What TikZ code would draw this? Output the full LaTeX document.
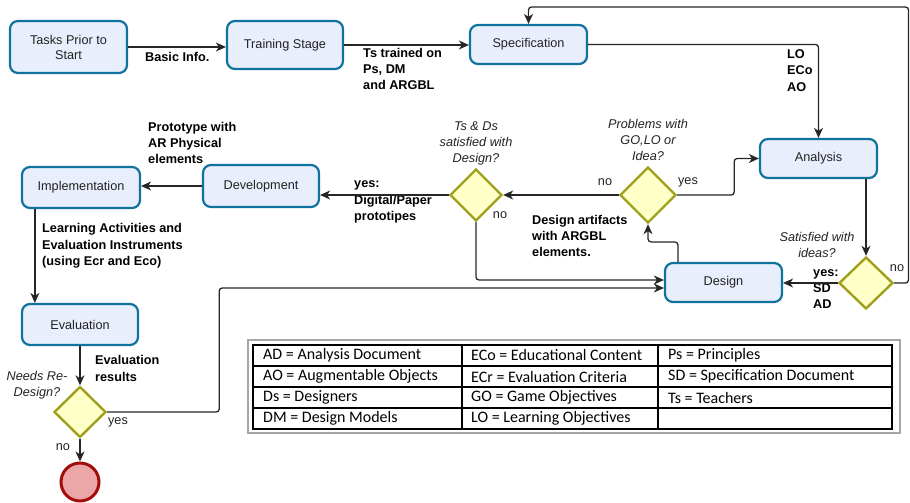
\documentclass[tikz,border=0pt]{standalone}
\usepackage{fontspec}
\setmainfont{Liberation Sans}
\newfontfamily\legfont{Carlito}
\usetikzlibrary{shapes.geometric,arrows.meta}
\definecolor{boxfill}{HTML}{E9EEFC}
\definecolor{boxline}{HTML}{10739E}
\definecolor{dfill}{HTML}{FFFFC8}
\definecolor{dline}{HTML}{A0A01E}
\definecolor{endfill}{HTML}{EBA7A7}
\definecolor{endline}{HTML}{A50D0D}
\definecolor{txt}{HTML}{222222}
\begin{document}
\begin{tikzpicture}[x=1pt,y=-1pt,
  every node/.style={font=\fontsize{12.7}{15}\selectfont, text=txt},
  proc/.style={draw=boxline, fill=boxfill, line width=2.2pt, rounded corners=8pt, minimum width=116pt, inner sep=0pt, align=center},
  dec/.style={diamond, draw=dline, fill=dfill, line width=2.4pt, inner sep=0pt},
  arr/.style={-{Stealth[length=10pt,width=9pt,inset=3pt]}, line width=1.3pt, draw=black!85, rounded corners=3pt},
  lbl/.style={font=\fontsize{12.7}{16.3}\selectfont\bfseries, text=black, align=left, anchor=west, inner sep=0pt},
  q/.style={font=\fontsize{12.7}{16}\selectfont\itshape, align=center, inner sep=0pt},
  yn/.style={inner sep=0pt},
  leg/.style={font=\legfont\fontsize{16}{18}\selectfont, text=black, anchor=west, inner sep=0pt},
  tline/.style={line width=1.3pt, draw=black}
]
\useasboundingbox (0,0) rectangle (910,503);

% process boxes
\node[proc, minimum height=52pt, minimum width=117pt] (tasks) at (68.5,47) {Tasks Prior to\\Start};
\node[proc, minimum height=48pt] (train) at (285,45) {Training Stage};
\node[proc, minimum height=39pt, minimum width=117pt] (spec) at (528.5,44.5) {Specification};
\node[proc, minimum height=39pt, minimum width=117pt] (analysis) at (818.5,158.5) {Analysis};
\node[proc, minimum height=39pt, minimum width=117pt] (design) at (723.5,282.5) {Design};
\node[proc, minimum height=42pt] (devel) at (261,186) {Development};
\node[proc, minimum height=41pt, minimum width=118pt] (impl) at (81,187.5) {Implementation};
\node[proc, minimum height=41pt] (eval) at (80,324.5) {Evaluation};

% decisions
\node[dec, minimum width=56pt, minimum height=56pt] (probl) at (648,195) {};
\node[dec, minimum width=52pt, minimum height=52pt] (tsds) at (476,195) {};
\node[dec, minimum width=54pt, minimum height=52pt] (satis) at (866,283) {};
\node[dec, minimum width=52pt, minimum height=51pt] (needs) at (80,412) {};
\node[circle, draw=endline, fill=endfill, line width=3pt, minimum size=38pt, inner sep=0pt] (end) at (80,482) {};

% labels
\node[lbl] (lbasic) at (145,57) {Basic Info.};
\node[lbl] (lts) at (363,69) {Ts trained on\\Ps, DM\\and ARGBL};
\node[lbl] (llo) at (787,70.5) {LO\\ECo\\AO};
\node[q] (qsat) at (817,245) {Satisfied with\\ideas?};
\node[lbl] (lyessd) at (813,289) {yes:\\SD\\AD};
\node[yn] (nosat) at (897,268) {no};
\node[q] (qprob) at (648,139.5) {Problems with\\GO,LO or\\Idea?};
\node[yn] (yesprob) at (688,182) {yes};
\node[yn] (noprob) at (605,182) {no};
\node[q] (qts) at (476,143) {Ts \& Ds\\satisfied with\\Design?};
\node[yn] (nots) at (500,215) {no};
\node[lbl] (lart) at (532,236) {Design artifacts\\with ARGBL\\elements.};
\node[lbl] (lyesdig) at (354,202) {yes:\\Digital/Paper\\prototipes};
\node[lbl] (lproto) at (148,143) {Prototype with\\AR Physical\\elements};
\node[lbl] (llearn) at (42,246) {Learning Activities and\\Evaluation Instruments\\(using Ecr and Eco)};
\node[lbl] (levres) at (95,368.5) {Evaluation\\results};
\node[q] (qneeds) at (37,385) {Needs Re-\\Design?};
\node[yn] (yesneeds) at (118,422) {yes};
\node[yn] (noneeds) at (63,447) {no};

% connectors
\draw[arr] (tasks.east) -- (tasks.east -| train.west);
\draw[arr] (train.east) -- (train.east -| spec.west);
\draw[arr] (spec.east) -| (analysis.north);
\draw[arr] (satis.north |- analysis.south) -- (satis.north);
\draw[arr] (satis.west) -- (satis.west -| design.east);
\coordinate (loopr) at (908.5,7);
\draw[arr] (satis.east) -| (loopr) -| (spec.north);
\draw[arr] ([xshift=14pt]design.north west) -- ++(0,-20) -| (probl.south);
\draw[arr] (probl.east) -- ++(57,0) |- (analysis.west);
\draw[arr] (probl.west) -- (tsds.east);
\draw[arr] (tsds.west) -- (tsds.west -| devel.east);
\draw[arr] (tsds.south) |- ([yshift=2.5pt]design.west);
\draw[arr] (devel.west) -- (devel.west -| impl.east);
\draw[arr] ([xshift=14pt]impl.south west) -- ([xshift=14pt]impl.south west |- eval.north);
\draw[arr] (eval.south) -- (needs.north);
\draw[arr] (needs.east) -- ++(112,0) |- ([yshift=-5.5pt]design.west);
\draw[arr] (needs.south) -- (end.north);

% legend
\draw[black!35, line width=1.3pt] (248,340) rectangle (900,433);
\draw[tline] (253,345) rectangle (892,429);
\foreach \yy in {366,387,408} \draw[tline] (253,\yy) -- (892,\yy);
\draw[tline] (462,345) -- (462,429);
\draw[tline] (658,345) -- (658,429);
\node[leg] (g11) at (263,355.5) {AD = Analysis Document};
\node[leg] (g21) at (263,376.5) {AO = Augmentable Objects};
\node[leg] (g31) at (263,397.5) {Ds = Designers};
\node[leg] (g41) at (263,418.5) {DM = Design Models};
\node[leg] (g12) at (471,355.5) {ECo = Educational Content};
\node[leg] (g22) at (471,376.5) {ECr = Evaluation Criteria};
\node[leg] (g32) at (471,397.5) {GO = Game Objectives};
\node[leg] (g42) at (471,418.5) {LO = Learning Objectives};
\node[leg] (g13) at (668,355.5) {Ps = Principles};
\node[leg] (g23) at (668,376.5) {SD = Specification Document};
\node[leg] (g33) at (668,397.5) {Ts = Teachers};
\end{tikzpicture}
\end{document}
